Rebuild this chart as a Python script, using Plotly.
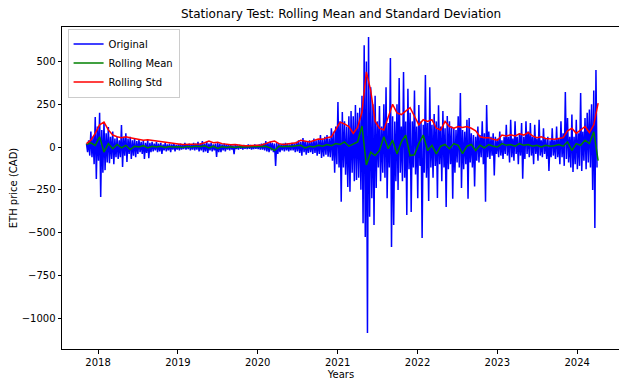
import pandas as pd
import plotly.graph_objects as go

# Original differenced series, sampled every 5 days from 2017-11-09
orig_start = "2017-11-09"
original = [
    20, -30, 40, -50, 90, -60, 60, -100, 175, -187, 120, -80, 200, -292, 100, -150, 146, -135, 80, -90, 117, -94, 60, -70,
    90, -100, 50, -60, 60, -70, 40, -60, 129, -117, 60, -50, 80, -88, 50, -40, 60, -70, 40, -50, 53, -60, 35, -40,
    45, -30, 30, -40, 40, -70, 25, -35, 43, -65, 25, -30, 30, -26, 20, -20, 30, -30, 20, -25, 25, -40, 15, -20,
    25, -25, 15, -20, 20, -30, 15, -15, 20, -25, 12, -15, 15, -20, 20, -15, 12, -12, 25, -15, 15, -12, 20, -20,
    15, -15, 25, -20, 20, -15, 30, -25, 20, -20, 35, -30, 20, -25, 30, -35, 20, -20, 25, -25, 15, -20, 20, -58,
    25, -30, 20, -30, 15, -20, 20, -25, 15, -15, 12, -20, 15, -15, 10, -41, 15, -12, 10, -15, 12, -10, 10, -15,
    12, -10, 10, -12, 15, -10, 12, -15, 10, -12, 15, -10, 12, -12, 15, -15, 20, -15, 20, -20, 35, -25, 25, -30,
    30, -20, 25, -30, 20, -111, 25, -40, 20, -30, 15, -20, 20, -25, 25, -20, 20, -25, 15, -20, 25, -20, 20, -30,
    30, -25, 40, -35, 30, -50, 53, -30, 35, -45, 30, -35, 40, -30, 35, -40, 50, -35, 40, -50, 45, -40, 70, -64,
    50, -55, 60, -45, 70, -57, 50, -60, 110, -80, 90, -150, 120, -100, 263, -120, 150, -320, 205, -120, 150, -162, 120, -234,
    180, -262, 210, -150, 180, -200, 246, -193, 200, -180, 230, -250, 300, -445, 596, -526, 500, -1088, 643, -408, 350, -300, 250, -456,
    300, -240, 150, -120, 240, -200, 120, -150, 250, -180, 350, -300, 140, -120, 520, -585, 180, -456, 150, -200, 250, -251, 403, -150,
    120, -200, 439, -180, 150, -398, 341, -130, 200, -380, 150, -120, 330, -160, 120, -300, 246, -110, 150, -532, 130, -150, 421, -180,
    140, -315, 350, -120, 130, -180, 193, -110, 150, -298, 245, -100, 120, -200, 210, -120, 110, -351, 181, -130, 150, -100, 120, -302,
    110, -150, 100, -90, 180, -120, 316, -240, 100, -130, 90, -100, 160, -302, 170, -90, 80, -120, 70, -230, 60, -80, 120, -90,
    70, -60, 150, -100, 80, -320, 246, -60, 90, -70, 60, -50, 80, -167, 60, -40, 50, -60, 90, -50, 40, -70, 60, -40,
    130, -50, 60, -90, 160, -60, 50, -80, 150, -40, 60, -100, 80, -50, 140, -185, 60, -70, 150, -40, 90, -60, 140, -50,
    60, -100, 130, -40, 50, -80, 160, -50, 40, -60, 110, -40, 50, -70, 60, -140, 40, -60, 110, -50, 40, -70, 120, -60,
    50, -100, 150, -60, 80, -110, 322, -70, 170, -90, 60, -120, 190, -146, 60, -100, 160, -130, 80, -110, 316, -140, 90, -80,
    170, -130, 200, -90, 220, -120, 250, -251, 330, -473, 450, -120,
]

# Rolling statistics, sampled every 20 days from 2017-11-09
roll_start = "2017-11-09"
rolling_mean = [
    15, 25, 10, 60, -30, 20, -10, 15, -5, 10,
    -15, 5, 0, 8, -5, 5, 0, 5, -3, 3,
    0, 2, -2, 3, 0, 4, 2, 8, -5, 5,
    -8, 3, -2, 2, -3, 1, 0, 1, 0, 2,
    0, 5, -5, -20, 5, 2, 5, 3, 8, 10,
    -5, 5, 0, 10, 5, 15, 8, 20, 15, 30,
    5, 20, 30, 123, -105, -30, -50, -20, 60, -10,
    40, -40, 30, 70, -50, -45, 20, 70, -20, 10,
    -40, 5, 15, -10, 20, 10, -38, 5, 15, -20,
    10, -5, 15, 5, 0, 20, 10, 15, 5, 20,
    10, 15, 5, 10, 0, 10, 5, 8, 15, 5,
    30, -20, 20, 10, 40, 20, 90, -80,
]
rolling_std = [
    20, 40, 80, 130, 146, 100, 70, 60, 55, 60,
    55, 50, 45, 40, 42, 38, 35, 33, 30, 25,
    22, 18, 15, 15, 14, 15, 18, 25, 35, 25,
    28, 20, 15, 14, 15, 10, 8, 8, 9, 10,
    12, 20, 30, 35, 20, 15, 18, 20, 25, 40,
    35, 30, 38, 47, 45, 55, 60, 100, 146, 135,
    120, 80, 115, 205, 440, 330, 150, 110, 100, 175,
    250, 200, 190, 210, 230, 180, 130, 160, 150, 160,
    110, 100, 150, 120, 110, 120, 115, 120, 110, 95,
    60, 55, 55, 45, 40, 70, 65, 72, 65, 78,
    70, 85, 65, 55, 60, 50, 48, 45, 50, 55,
    95, 110, 80, 100, 120, 85, 130, 257,
]

year_ticks = ["2018", "2019", "2020", "2021", "2022", "2023", "2024"]
y_ticks = [500, 250, 0, -250, -500, -750, -1000]

orig_dates = pd.date_range(orig_start, periods=len(original), freq="5D")
roll_dates = pd.date_range(roll_start, periods=len(rolling_std), freq="20D")

fig = go.Figure()
fig.add_trace(go.Scatter(x=orig_dates, y=original, mode="lines", name="Original",
                         line=dict(color="blue", width=1.5)))
fig.add_trace(go.Scatter(x=roll_dates, y=rolling_mean, mode="lines", name="Rolling Mean",
                         line=dict(color="green", width=1.5)))
fig.add_trace(go.Scatter(x=roll_dates, y=rolling_std, mode="lines", name="Rolling Std",
                         line=dict(color="red", width=1.5)))

# page body has an 8px margin; the figure is sized to fill the rest of the window
W, H = 619, 379
fig.update_layout(
    width=W, height=H,
    margin=dict(l=54, r=7, t=19, b=38, pad=0),
    paper_bgcolor="white", plot_bgcolor="white",
    font=dict(family="DejaVu Sans", size=10, color="black"),
    title=dict(text="Stationary Test: Rolling Mean and Standard Deviation",
               x=0.5, xref="paper", xanchor="center",
               y=1 - 2 / H, yref="container", yanchor="top", pad=dict(t=0, b=0, l=0, r=0),
               font=dict(family="DejaVu Sans", size=12, color="black")),
    showlegend=True,
    legend=dict(x=0.01, y=0.995, xanchor="left", yanchor="top",
                bgcolor="rgba(255,255,255,0.8)", bordercolor="#cccccc", borderwidth=1,
                font=dict(family="DejaVu Sans", size=10), tracegroupgap=0,
                itemwidth=30),
)
fig.update_xaxes(
    range=["2017-07-20", "2024-07-15"],
    tickvals=[pd.Timestamp(y + "-01-01") for y in year_ticks],
    ticktext=year_ticks,
    showgrid=False, zeroline=False, automargin=False,
    showline=True, linecolor="black", linewidth=1, mirror=True,
    ticks="outside", ticklen=3.5, tickcolor="black",
    title=dict(text="Years", font=dict(family="DejaVu Sans", size=10), standoff=4),
)
fig.update_yaxes(
    range=[-1181, 702],
    tickvals=y_ticks,
    showgrid=False, zeroline=False, automargin=False,
    showline=True, linecolor="black", linewidth=1, mirror=True,
    ticks="outside", ticklen=3.5, tickcolor="black",
    title=dict(text="ETH price (CAD)", font=dict(family="DejaVu Sans", size=10), standoff=5),
)

fig.write_html("out.html")
